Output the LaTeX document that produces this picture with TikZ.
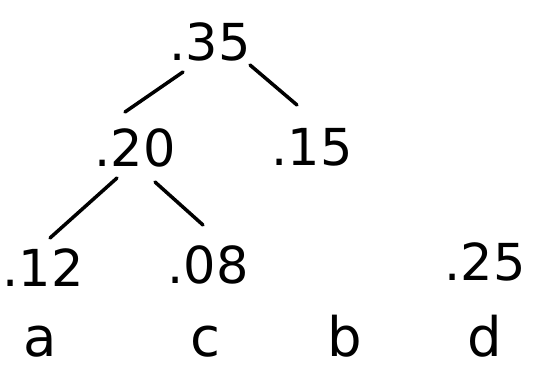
\documentclass[tikz,border=0pt]{standalone}
\usepackage{fontspec}
\setmainfont{DejaVu Sans}
\usetikzlibrary{positioning}
\tikzset{weight/.style={inner sep=2pt,font=\fontsize{29}{31}\selectfont},leaf/.style={inner sep=0pt,anchor=base,font=\fontsize{31}{33}\selectfont},branch/.style={line width=2pt,line cap=round},every picture/.style={line cap=round}}

\begin{document}
\begin{tikzpicture}[x=0.02cm,y=-0.02cm]
\useasboundingbox (0,0) rectangle (541,372);
\node[weight] (w35) at (210,42) {.35};
\node[weight] (w20) at (135,148) {.20};
\node[weight] (w15) at (312,147) {.15};
\node[weight] (w12) at (43,268) {.12};
\node[weight] (w08) at (208,265) {.08};
\node[weight] (w25) at (485,262) {.25};
\node[leaf] (la) at (40,356) {a};
\node[leaf] (lc) at (205,356) {c};
\node[leaf] (lb) at (345,356) {b};
\node[leaf] (ld) at (485,356) {d};
\draw[branch] ([shift={(-27,30)}]w35.center) -- ([shift={(-10,-36)}]w20.center);
\draw[branch] ([shift={(40,23)}]w35.center) -- ([shift={(-15,-42)}]w15.center);
\draw[branch] ([shift={(-18,30)}]w20.center) -- ([shift={(7,-30)}]w12.center);
\draw[branch] ([shift={(20,34)}]w20.center) -- ([shift={(-5,-40)}]w08.center);
\end{tikzpicture}
\end{document}
